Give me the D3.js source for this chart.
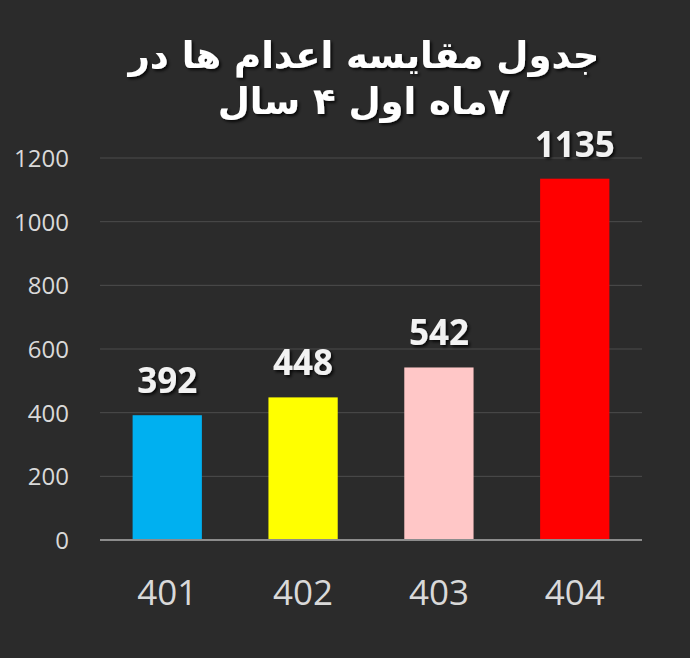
<!DOCTYPE html>
<html><head><meta charset="utf-8">
<script src="https://cdn.jsdelivr.net/npm/d3@7"></script>
<style>
html,body{margin:0;padding:0;background:#2b2b2b;}
svg{display:block;}
</style></head>
<body>
<svg id="chart" width="690" height="658"></svg>
<script>
const categories = ["401", "402", "403", "404"];
const values = [392, 448, 542, 1135];
const colors = ["#00b0f0", "#ffff00", "#ffc7c7", "#ff0000"];
const yTicks = [0, 200, 400, 600, 800, 1000, 1200];
const titleLines = ["جدول مقایسه اعدام ها در", "۷ماه اول ۴ سال"];

const W = 690, H = 658;
const margin = {left: 100, right: 48, top: 158, bottom: 118};
const svg = d3.select("#chart");
svg.append("rect").attr("width", W).attr("height", H).attr("fill", "#2b2b2b");

const defs = svg.append("defs");
const f = defs.append("filter").attr("id", "sh").attr("x", "-10%").attr("y", "-20%").attr("width", "120%").attr("height", "150%");
f.append("feDropShadow").attr("dx", 2).attr("dy", 2).attr("stdDeviation", 1.5).attr("flood-color", "#000").attr("flood-opacity", 0.8);

const x = d3.scaleBand().domain(categories).range([margin.left, W - margin.right]).paddingInner(0.49).paddingOuter(0.24);
const y = d3.scaleLinear().domain([0, 1200]).range([H - margin.bottom, margin.top]);

// gridlines
svg.append("g").selectAll("line").data(yTicks.filter(d => d > 0)).join("line")
  .attr("x1", margin.left).attr("x2", W - margin.right)
  .attr("y1", d => y(d)).attr("y2", d => y(d))
  .attr("stroke", "#4d4d4d").attr("stroke-width", 1);

// y axis labels
const yAxis = d3.axisLeft(y).tickValues(yTicks).tickFormat(d3.format("d")).tickSize(0).tickPadding(0);
const gy = svg.append("g").attr("transform", `translate(69,0)`).call(yAxis);
gy.select(".domain").remove();
gy.selectAll("text").attr("fill", "#d9d9d9").attr("font-family", "Open Sans, sans-serif").attr("font-size", 24).attr("dy", "0.35em");

// bars
svg.append("g").selectAll("rect").data(values).join("rect")
  .attr("x", (d, i) => x(categories[i]))
  .attr("width", x.bandwidth())
  .attr("y", d => y(d))
  .attr("height", d => y(0) - y(d))
  .attr("fill", (d, i) => colors[i]);

// baseline axis
const xAxis = d3.axisBottom(x).tickSize(0).tickPadding(40);
const gx = svg.append("g").attr("transform", `translate(0,${y(0)})`).call(xAxis);
gx.select(".domain").attr("stroke", "#8c8c8c").attr("stroke-width", 2).attr("d", `M${margin.left},0H${W - margin.right}`);
gx.selectAll("text").attr("fill", "#d9d9d9").attr("font-family", "Open Sans, sans-serif").attr("font-size", 35).attr("dy", "0.71em").attr("y", 40);

// value labels
svg.append("g").selectAll("text").data(values).join("text")
  .attr("x", (d, i) => x(categories[i]) + x.bandwidth() / 2)
  .attr("y", d => y(d) - 22)
  .attr("text-anchor", "middle")
  .attr("fill", "#f2f2f2")
  .attr("font-family", "Open Sans, sans-serif")
  .attr("font-weight", "bold")
  .attr("font-size", 35)
  .attr("filter", "url(#sh)")
  .text(d => d);

// title
svg.append("g").selectAll("text").data(titleLines).join("text")
  .attr("x", 364)
  .attr("y", (d, i) => 68 + i * 46)
  .attr("text-anchor", "middle")
  .attr("direction", "rtl")
  .attr("fill", "#ffffff")
  .attr("font-family", "DejaVu Sans, sans-serif")
  .attr("font-weight", "bold")
  .attr("font-size", 37)
  .attr("filter", "url(#sh)")
  .text(d => d);
</script>
</body></html>
